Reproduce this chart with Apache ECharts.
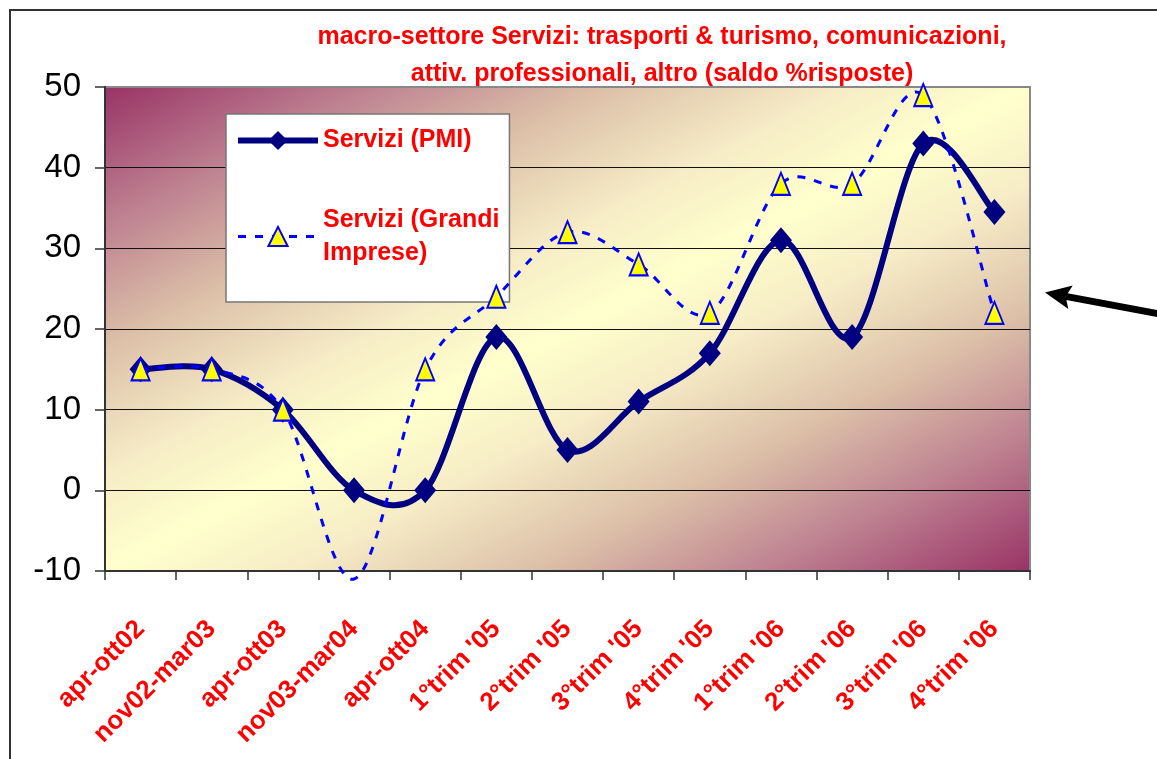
<!DOCTYPE html>
<html>
<head>
<meta charset="utf-8">
<script src="https://cdn.jsdelivr.net/npm/echarts@6/dist/echarts.min.js"></script>
<style>
  html, body { margin: 0; padding: 0; background: #fff; }
  #chart { width: 1157px; height: 759px; }
</style>
</head>
<body>
<div id="chart"></div>
<script>
// periodi (asse x)
const periodi = ['apr-ott02', 'nov02-mar03', 'apr-ott03', 'nov03-mar04', 'apr-ott04',
  "1°trim '05", "2°trim '05", "3°trim '05", "4°trim '05",
  "1°trim '06", "2°trim '06", "3°trim '06", "4°trim '06"];
// saldo % risposte
const serviziPMI = [15, 15, 10, 0, 0, 19, 5, 11, 17, 31, 19, 43, 34.5];
const serviziGrandi = [15, 15, 10, -11, 15, 24, 32, 28, 22, 38, 38, 49, 22];
const nomi = ['Servizi (PMI)', 'Servizi (Grandi Imprese)'];
const yTicks = { min: -10, max: 50, step: 10 };

const FONT = '"Liberation Sans", Arial, sans-serif';

// area del grafico
const gx = 105, gy = 87, gw = 925, gh = 484;

// sfumatura diagonale (banda chiara da basso-sx ad alto-dx)
function sfondo() {
  const cx = gx + gw / 2, cy = gy + gh / 2;
  const len = Math.hypot(gh, gw);
  const nx = gh / len, ny = gw / len;
  const d = (gw / 2) * nx + (gh / 2) * ny;
  return {
    type: 'linear', global: true,
    x: cx - d * nx, y: cy - d * ny, x2: cx + d * nx, y2: cy + d * ny,
    colorStops: [
      { offset: 0, color: '#993366' },
      { offset: 0.14, color: '#bd8090' },
      { offset: 0.27, color: '#dcc0a8' },
      { offset: 0.4, color: '#f6ecc6' },
      { offset: 0.5, color: '#ffffcc' },
      { offset: 0.6, color: '#f6ecc6' },
      { offset: 0.73, color: '#dcc0a8' },
      { offset: 0.86, color: '#bd8090' },
      { offset: 1, color: '#993366' }
    ]
  };
}

// curva smussata stile Excel (Catmull-Rom), punti dalle scale di echarts
function curva(valori, stile) {
  return function (params, api) {
    if (params.dataIndex !== 0) return null;
    const p = valori.map((v, i) => api.coord([i, v]));
    const n = p.length;
    let d = 'M' + p[0][0] + ' ' + p[0][1];
    for (let i = 0; i < n - 1; i++) {
      const a = p[Math.max(i - 1, 0)], b = p[i], c = p[i + 1], e = p[Math.min(i + 2, n - 1)];
      const c1 = [b[0] + (c[0] - a[0]) / 6, b[1] + (c[1] - a[1]) / 6];
      const c2 = [c[0] - (e[0] - b[0]) / 6, c[1] - (e[1] - b[1]) / 6];
      d += ' C' + c1[0] + ' ' + c1[1] + ' ' + c2[0] + ' ' + c2[1] + ' ' + c[0] + ' ' + c[1];
    }
    return { type: 'path', shape: { pathData: d }, style: Object.assign({ fill: 'none' }, stile) };
  };
}

// freccia a destra
function freccia() {
  const tip = [1045, 292.5], tail = [1170, 316];
  const dx = tail[0] - tip[0], dy = tail[1] - tip[1];
  const l = Math.hypot(dx, dy), ux = dx / l, uy = dy / l;
  const px = -uy, py = ux;
  const hl = 26, hw = 12;
  const b = [tip[0] + ux * hl, tip[1] + uy * hl];
  const n = [tip[0] + ux * (hl - 5), tip[1] + uy * (hl - 5)];
  return [
    { type: 'line', shape: { x1: n[0], y1: n[1], x2: tail[0], y2: tail[1] },
      style: { stroke: '#000', lineWidth: 7 } },
    { type: 'polygon',
      shape: { points: [tip, [b[0] + px * hw, b[1] + py * hw], n, [b[0] - px * hw, b[1] - py * hw]] },
      style: { fill: '#000' } }
  ];
}

const chart = echarts.init(document.getElementById('chart'));
chart.setOption({
  animation: false,
  backgroundColor: '#fff',
  title: {
    text: 'macro-settore Servizi: trasporti & turismo, comunicazioni,\nattiv. professionali, altro (saldo %risposte)',
    left: 662, top: 19, padding: 0,
    textAlign: 'center',
    textStyle: { color: '#ff0000', fontFamily: FONT, fontWeight: 'bold', fontSize: 25, lineHeight: 37 }
  },
  grid: {
    left: gx, top: gy, width: gw, height: gh,
    show: true, backgroundColor: sfondo(), borderColor: '#888', borderWidth: 2
  },
  legend: {
    orient: 'vertical', left: 226, top: 114,
    padding: [10, 10, 16, 9],
    itemWidth: 80, itemHeight: 24, itemGap: 30,
    backgroundColor: '#fff', borderColor: '#777', borderWidth: 1.5,
    formatter: name => name.replace(' Imprese', '\nImprese'),
    textStyle: { color: '#ff0000', fontFamily: FONT, fontWeight: 'bold', fontSize: 25, lineHeight: 33 },
    data: [
      { name: nomi[0], lineStyle: { width: 6, opacity: 1 } },
      { name: nomi[1], lineStyle: { width: 3, opacity: 1 }, textStyle: { padding: [33, 0, 0, 0] } }
    ]
  },
  xAxis: {
    type: 'category', data: periodi, boundaryGap: true,
    axisLine: { onZero: false, lineStyle: { color: '#333', width: 2 } },
    axisTick: { show: true, length: 9, lineStyle: { color: '#333', width: 1.5 } },
    axisLabel: {
      rotate: 45, margin: 54, interval: 0,
      color: '#ff0000', fontFamily: FONT, fontWeight: 'bold', fontSize: 26
    }
  },
  yAxis: {
    type: 'value', min: yTicks.min, max: yTicks.max, interval: yTicks.step,
    axisLine: { show: true, lineStyle: { color: '#333', width: 2 } },
    axisTick: { show: true, length: 10, lineStyle: { color: '#333', width: 1.5 } },
    axisLabel: { margin: 24, color: '#000', fontFamily: FONT, fontSize: 33 },
    splitLine: { lineStyle: { color: ['#111', '#111', '#111', '#111', '#111', '#111', '#888'], width: 1.2 } }
  },
  series: [
    {
      name: 'curva PMI', type: 'custom', z: 2, silent: true,
      data: serviziPMI.map((v, i) => [i, v]), encode: { x: 0, y: 1 },
      renderItem: curva(serviziPMI, { stroke: '#000080', lineWidth: 6, lineJoin: 'round' })
    },
    {
      name: nomi[0], type: 'line', data: serviziPMI, z: 3,
      symbol: 'diamond', symbolSize: [22, 26],
      lineStyle: { color: '#000080', width: 6, opacity: 0 },
      itemStyle: { color: '#000080' }
    },
    {
      name: 'curva Grandi', type: 'custom', z: 4, silent: true,
      data: serviziGrandi.map((v, i) => [i, v]), encode: { x: 0, y: 1 },
      renderItem: curva(serviziGrandi, { stroke: '#0000ff', lineWidth: 3, lineDash: [8, 9] })
    },
    {
      name: nomi[1], type: 'line', z: 5, clip: false,
      data: serviziGrandi.map(v => v < yTicks.min ? { value: v, symbol: 'none' } : v),
      symbol: 'triangle', symbolSize: [18, 22],
      lineStyle: { color: '#0000ff', width: 3, type: [8, 9], opacity: 0 },
      itemStyle: { color: '#ffff00', borderColor: '#0000ff', borderWidth: 2 }
    }
  ],
  graphic: [
    { type: 'rect', shape: { x: 10, y: 10, width: 1200, height: 800 },
      style: { fill: null, stroke: '#333', lineWidth: 2 }, silent: true },
    ...freccia()
  ]
});
</script>
</body>
</html>
